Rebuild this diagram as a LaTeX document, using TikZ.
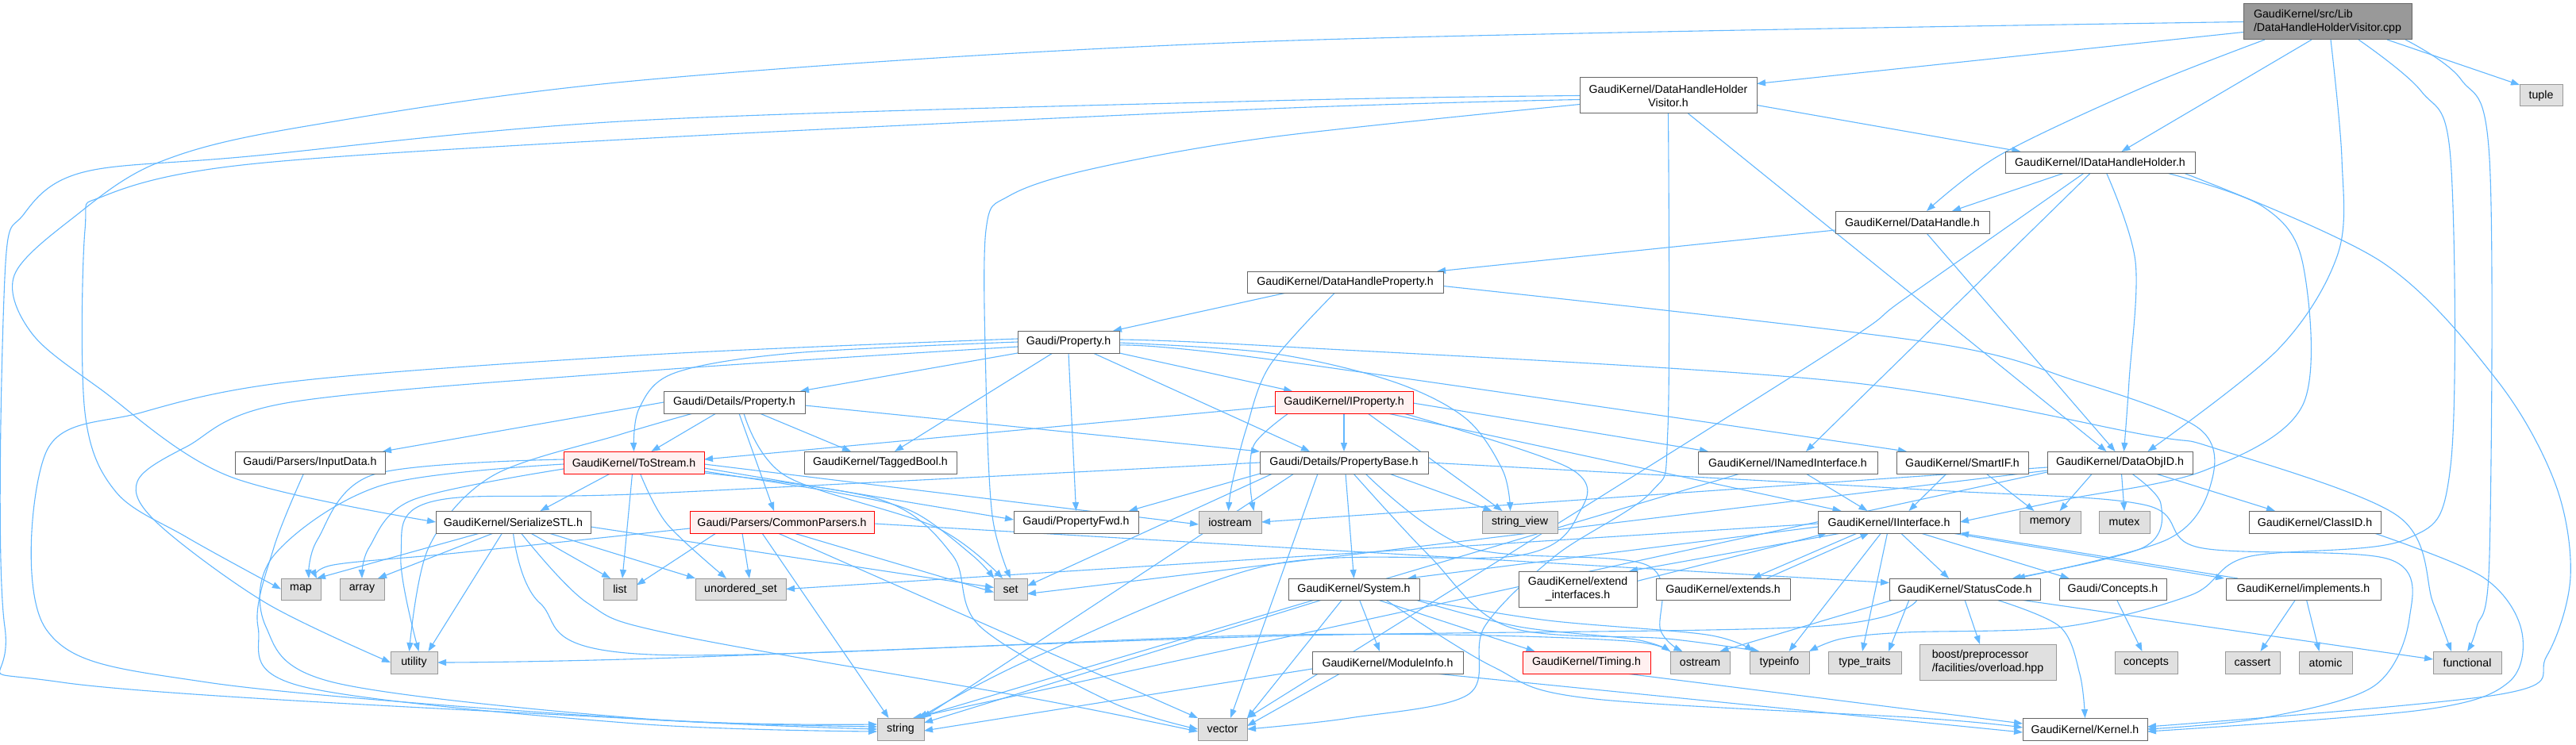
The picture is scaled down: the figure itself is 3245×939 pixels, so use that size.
\documentclass[tikz,border=0pt]{standalone}
\usepackage{fontspec}
\setmainfont{Liberation Sans}
\usetikzlibrary{arrows.meta}
\definecolor{edgeblue}{HTML}{63B8FF}
\definecolor{bordergray}{HTML}{666666}
\definecolor{lightgrayfill}{HTML}{E0E0E0}
\definecolor{midgray}{HTML}{999999}
\definecolor{pinkfill}{HTML}{FFF0F0}
\pgfdeclarelayer{bg}
\pgfsetlayers{bg,main}
\tikzset{
 nodew/.style={rectangle, draw=bordergray, fill=white, line width=1pt, inner sep=0pt, outer sep=0pt, align=center, font=\fontsize{14.2}{17}\selectfont},
 nodeg/.style={nodew, draw=midgray, fill=lightgrayfill},
 noder/.style={nodew, draw=red, fill=pinkfill},
 nodem/.style={nodew, draw=bordergray, fill=midgray},
 edg/.style={draw=edgeblue, line width=1.1pt, -{Triangle[length=11pt,width=8pt]}},
}
\newcommand{\mynode}[7]{\node[#1, minimum width=#5pt, minimum height=#6pt] (#2) at (#3,#4) {#7};}
\newcommand{\ed}[2]{\draw[edg] (#1) -- (#2);}
\newcommand{\rt}[1]{\draw[edg] plot[smooth, tension=0.55] coordinates {#1};}
\begin{document}
\begin{tikzpicture}[x=1pt,y=-1pt]
\useasboundingbox (0,0) rectangle (3245,939);
% ---------------- nodes ----------------
\node[nodem, align=left, minimum width=212pt, minimum height=45pt] (main) at (2932,27.5) {GaudiKernel/src/Lib\\/DataHandleHolderVisitor.cpp};
\mynode{nodeg}{tuple}{3201}{120.5}{54}{27}{tuple}
\mynode{nodew}{dhhv}{2101.5}{120.5}{223}{45}{GaudiKernel/DataHandleHolder\\Visitor.h}
\mynode{nodew}{idhh}{2645.5}{204.5}{239}{27}{GaudiKernel/IDataHandleHolder.h}
\mynode{nodew}{dh}{2409}{280}{194}{28}{GaudiKernel/DataHandle.h}
\mynode{nodew}{dhp}{1694.5}{355.5}{247}{27}{GaudiKernel/DataHandleProperty.h}
\mynode{nodew}{prop}{1346}{431}{128}{28}{Gaudi/Property.h}
\mynode{nodew}{dprop}{925}{507}{178}{28}{Gaudi/Details/Property.h}
\mynode{noder}{iprop}{1693}{507}{174}{28}{GaudiKernel/IProperty.h}
\mynode{noder}{tostream}{798.5}{583}{177}{28}{GaudiKernel/ToStream.h}
\mynode{nodew}{input}{390.5}{583}{189}{28}{Gaudi/Parsers/InputData.h}
\mynode{nodew}{tagged}{1109}{583}{192}{28}{GaudiKernel/TaggedBool.h}
\mynode{nodew}{pbase}{1693}{583}{212}{28}{Gaudi/Details/PropertyBase.h}
\mynode{nodew}{inamed}{2252}{583}{226}{28}{GaudiKernel/INamedInterface.h}
\mynode{nodew}{smartif}{2472}{583}{166}{28}{GaudiKernel/SmartIF.h}
\mynode{nodew}{dataobj}{2670.5}{583}{183}{28}{GaudiKernel/DataObjID.h}
\mynode{nodew}{serial}{646.5}{658}{195}{28}{GaudiKernel/SerializeSTL.h}
\mynode{noder}{common}{985}{658}{232}{28}{Gaudi/Parsers/CommonParsers.h}
\mynode{nodew}{pfwd}{1355.5}{658}{157}{28}{Gaudi/PropertyFwd.h}
\mynode{nodeg}{iostream}{1549.5}{658}{79}{28}{iostream}
\mynode{nodeg}{strview}{1914.5}{658}{95}{28}{string\_view}
\mynode{nodew}{iface}{2379.5}{658}{179}{28}{GaudiKernel/IInterface.h}
\mynode{nodeg}{memory}{2582.5}{658}{77}{28}{memory}
\mynode{nodeg}{mutex}{2676}{658}{64}{28}{mutex}
\mynode{nodew}{classid}{2916}{658}{166}{28}{GaudiKernel/ClassID.h}
\mynode{nodeg}{map}{379}{742.5}{50}{27}{map}
\mynode{nodeg}{array}{456}{742.5}{56}{27}{array}
\mynode{nodeg}{list}{781}{742.5}{42}{27}{list}
\mynode{nodeg}{uset}{933}{742.5}{114}{27}{unordered\_set}
\mynode{nodeg}{set}{1273}{742.5}{42}{27}{set}
\mynode{nodew}{system}{1705.5}{742.5}{165}{27}{GaudiKernel/System.h}
\mynode{nodew}{extif}{1987.5}{742.5}{149}{45}{GaudiKernel/extend\\\_interfaces.h}
\mynode{nodew}{extends}{2170.5}{742.5}{169}{27}{GaudiKernel/extends.h}
\mynode{nodew}{status}{2475}{742.5}{190}{27}{GaudiKernel/StatusCode.h}
\mynode{nodew}{gconcepts}{2661.5}{742.5}{135}{27}{Gaudi/Concepts.h}
\mynode{nodew}{impl}{2901.5}{742.5}{195}{27}{GaudiKernel/implements.h}
\mynode{nodeg}{utility}{521.5}{835}{59}{28}{utility}
\mynode{nodew}{modinfo}{1748}{835}{190}{28}{GaudiKernel/ModuleInfo.h}
\mynode{noder}{timing}{1998.5}{835}{161}{28}{GaudiKernel/Timing.h}
\mynode{nodeg}{ostream}{2141.5}{835}{75}{28}{ostream}
\mynode{nodeg}{typeinfo}{2241.5}{835}{75}{28}{typeinfo}
\mynode{nodeg}{typetraits}{2349}{835}{92}{28}{type\_traits}
\node[nodeg, align=left, minimum width=172pt, minimum height=45pt] (boost) at (2504,834.5) {boost/preprocessor\\/facilities/overload.hpp};
\mynode{nodeg}{concepts}{2703.5}{835}{79}{28}{concepts}
\mynode{nodeg}{cassert}{2837.5}{835}{69}{28}{cassert}
\mynode{nodeg}{atomic}{2929.5}{835}{67}{28}{atomic}
\mynode{nodeg}{functional}{3108}{835}{86}{28}{functional}
\mynode{nodeg}{string}{1134.5}{919}{59}{28}{string}
\mynode{nodeg}{vector}{1540}{919}{62}{28}{vector}
\mynode{nodew}{kernel}{2626.5}{919}{157}{28}{GaudiKernel/Kernel.h}
% ---------------- edges ----------------
\begin{pgfonlayer}{bg}
\fill[white] (0,0) rectangle (3245,939);
% main
\ed{[yshift=-13pt]main.west}{[yshift=15pt]dhhv.east}
\ed{[xshift=-20pt]main.south}{[xshift=27pt]idhh.north}
\rt{([xshift=-79pt]main.south) (2700,110) (2520,195) ([xshift=18pt]dh.north)}
\ed{[xshift=75pt]main.south}{tuple.north west}
\rt{([xshift=4pt]main.south) (2950,200) (2945,320) (2870,440) ([xshift=35pt]dataobj.north)}
\rt{(main.west) (1600,52) (820,100) (380,160) (199,205) (94,273) (18,347) (40,420) (126,490) (288,600) (serial.west)}
\rt{([xshift=39pt]main.south) (3050,115) (3087,200) (3087,587) (3030,680) (2831,702) (2760,750) (2600,790) (2400,797) (2320,805) (typeinfo.north east)}
\rt{([xshift=98pt]main.south) (3100,100) (3136,200) (3136,700) (3120,790) (functional.north)}
% dhhv
\ed{[yshift=-12pt]dhhv.east}{[xshift=-100pt]idhh.north}
\ed{[xshift=25pt]dhhv.south}{[xshift=-17pt]dataobj.north}
\rt{(dhhv.west) (1600,127) (800,152) (314,197) (105,217) (30,270) (6,350) (6,790) (78,860) (820,907) (string.west)}
\rt{([yshift=-5pt]dhhv.west) (1600,137) (820,174) (314,207) (131,247) (107,290) (107,520) (146,620) (235,677) (map.west)}
\rt{([yshift=-11pt]dhhv.west) (1600,173) (1375,213) (1271,247) (1242,290) (1242,480) (1250,650) (set.north)}
\rt{(dhhv.south) (2101,540) (2080,620) (1960,700) (1870,790) (1850,875) (1700,905) (vector.east)}
% idhh
\ed{[xshift=-45pt]idhh.south}{[xshift=50pt]dh.north}
\ed{[xshift=-12pt]idhh.south}{[xshift=23pt]inamed.north}
\rt{([xshift=8pt]idhh.south) (2690,330) (2682,480) ([xshift=5pt]dataobj.north)}
\rt{([xshift=84pt]idhh.south) (2850,260) (2901,333) (2901,510) (2777,593) (2600,630) (iface.east)}
\rt{([xshift=105pt]idhh.south) (3000,330) (3146,480) (3219,610) (3238,727) (3208,827) (3150,875) ([yshift=3pt]kernel.east)}
\rt{([xshift=-20pt]idhh.south) (2400,376) (2280,460) (vector.north east)}
% dh
\ed{[yshift=-10pt]dh.west}{[xshift=-8pt]dhp.north east}
\ed{[xshift=18pt]dh.south}{[xshift=-6pt]dataobj.north}
% dhp
\ed{[xshift=-74pt]dhp.south}{[xshift=-8pt]prop.north east}
\rt{([xshift=-13pt]dhp.south) (1600,460) (1570,540) (1552,610) ([xshift=-2pt]iostream.north)}
\rt{([yshift=-5pt]dhp.east) (2420,430) (2615,480) (2770,540) (2785,610) (2730,680) ([xshift=65pt]status.north)}
% prop
\ed{prop.south west}{[xshift=-6pt]dprop.north east}
\rt{(prop.west) (1000,445) (850,470) (805,515) (tostream.north)}
\ed{[xshift=-20pt]prop.south}{[xshift=18pt]tagged.north}
\ed{prop.south}{pfwd.north}
\ed{[xshift=31pt]prop.south}{[xshift=-43pt]pbase.north}
\ed{prop.south east}{[xshift=-65pt]iprop.north}
\rt{([yshift=-4pt]prop.east) (1600,453) ([xshift=-70pt]smartif.north)}
\rt{([yshift=-1pt]prop.east) (1600,445) (1752,480) (1846,527) (1893,593) ([xshift=-12pt]strview.north)}
\rt{([yshift=3pt]prop.east) (1600,436) (2311,480) (2702,548) (2790,565) (3020,650) (3065,760) ([xshift=-20pt]functional.north)}
\rt{([yshift=4pt]prop.west) (820,447) (376,480) (178,520) (58,570) (58,793) (261,860) (820,907) ([yshift=6pt]string.west)}
\rt{([yshift=-6pt]prop.west) (820,467) (366,507) (235,563) (173,607) (199,660) (335,760) (utility.west)}
% dprop
\ed{dprop.west}{[xshift=-3pt]input.north east}
\rt{([xshift=-52pt]dprop.south) (780,548) (620,600) (540,690) ([xshift=-6pt]utility.north)}
\ed{[xshift=-23pt]dprop.south}{[xshift=22pt]tostream.north}
\ed{[xshift=6pt]dprop.south}{[xshift=-10pt]common.north}
\rt{([xshift=12pt]dprop.south) (990,600) (1180,665) ([xshift=-10pt]set.north)}
\ed{[xshift=32pt]dprop.south}{[xshift=-37pt]tagged.north}
\ed{[yshift=-4pt]dprop.east}{pbase.north west}
% iprop
\ed{[yshift=-5pt]iprop.west}{[yshift=4pt]tostream.east}
\rt{([xshift=-70pt]iprop.south) (1580,560) (1575,610) ([xshift=30pt]iostream.north)}
\ed{iprop.south}{pbase.north}
\ed{[xshift=30pt]iprop.south}{[xshift=-22pt]strview.north}
\ed{[xshift=55pt]iprop.south}{[xshift=-60pt]iface.north}
\rt{([xshift=75pt]iprop.south) (1977,590) (1990,645) (1914,700) (1600,712) (1300,830) ([xshift=-6pt]string.north east)}
\ed{[yshift=-1pt]iprop.east}{[xshift=-100pt]inamed.north}
% pbase
\ed{pbase.south west}{[xshift=-12pt]pfwd.north east}
\rt{(pbase.west) (820,622) (545,632) (505,700) ([xshift=6pt]utility.north)}
\ed{[xshift=-90pt]pbase.south}{[yshift=4pt]set.east}
\ed{[xshift=-63pt]pbase.south}{[xshift=-2pt]string.north east}
\ed{[xshift=-33pt]pbase.south}{[xshift=10pt]vector.north}
\ed{[xshift=2pt]pbase.south}{system.north}
\rt{([xshift=12pt]pbase.south) (1800,700) (1900,790) (2100,805) ([xshift=-25pt]typeinfo.north)}
\rt{([xshift=27pt]pbase.south) (1850,690) (2074,712) (2092,795) ([xshift=-22pt]ostream.north)}
\ed{[xshift=57pt]pbase.south}{[xshift=-35pt]strview.north}
\rt{(pbase.east) (2420,617) (2700,636) (2770,690) (3010,705) (3035,780) (2990,865) (2850,905) (kernel.east)}
% tostream
\rt{([yshift=4pt]tostream.west) (471,598) (400,680) ([xshift=10pt]map.north)}
\rt{([yshift=-8pt]tostream.west) (520,630) (465,690) (array.north)}
\rt{([yshift=-2pt]tostream.west) (480,612) (345,700) (335,790) (420,860) (800,905) ([yshift=3pt]string.west)}
\ed{[xshift=-30pt]tostream.south}{[xshift=34pt]serial.north}
\ed{[xshift=-2pt]tostream.south}{[xshift=3pt]list.north}
\rt{([xshift=8pt]tostream.south) (840,660) ([xshift=-18pt]uset.north)}
\ed{[yshift=-2pt]tostream.east}{[yshift=-3pt]iostream.west}
\ed{[yshift=-7pt]tostream.east}{[yshift=3pt]pfwd.west}
\rt{([yshift=-11pt]tostream.east) (1060,622) (1150,645) (1225,700) (set.north west)}
\rt{([yshift=-13pt]tostream.east) (1110,630) (1200,700) (1235,790) (1400,885) (vector.west)}
% input
\rt{([xshift=-8pt]input.south) (345,690) (325,790) (380,865) (800,912) ([yshift=-3pt]string.west)}
% common
\rt{([yshift=-8pt]common.west) (575,697) (420,712) ([xshift=20pt]map.north)}
\ed{[xshift=-83pt]common.south}{[yshift=5pt]list.east}
\ed{[xshift=-50pt]common.south}{[xshift=11pt]uset.north}
\ed{[xshift=-25pt]common.south}{[xshift=-15pt]string.north}
\ed{[xshift=-5pt]common.south}{vector.north west}
\ed{[xshift=15pt]common.south}{[yshift=-4pt]set.west}
\ed{[yshift=-2pt]common.east}{[yshift=8pt]status.west}
% serial
\ed{[xshift=-42pt]serial.south}{[xshift=20pt]map.north}
\ed{[xshift=-25pt]serial.south}{[xshift=20pt]array.north}
\ed{[xshift=-14pt]serial.south}{[xshift=18pt]utility.north}
\ed{[xshift=22pt]serial.south}{[xshift=-12pt]list.north}
\ed{[xshift=45pt]serial.south}{uset.north west}
\ed{[yshift=-6pt]serial.east}{[yshift=2pt]set.west}
\rt{([xshift=10pt]serial.south) (740,760) (850,800) (1300,880) ([yshift=-3pt]vector.west)}
\rt{(serial.south) (680,760) (820,825) (1620,800) (2050,808) (ostream.west)}
% inamed
\ed{[xshift=23pt]inamed.south}{[xshift=-27pt]iface.north}
\ed{[xshift=-60pt]inamed.south}{[xshift=-10pt]string.north east}
% smartif
\ed{[xshift=-20pt]smartif.south}{[xshift=25pt]iface.north}
\ed{[xshift=30pt]smartif.south}{[xshift=-20pt]memory.north}
% dataobj
\ed{[xshift=-35pt]dataobj.south}{[xshift=12pt]memory.north}
\ed{[xshift=2pt]dataobj.south}{mutex.north}
\rt{([xshift=15pt]dataobj.south) (2722,635) (2700,690) ([xshift=60pt]status.north)}
\ed{[xshift=45pt]dataobj.south}{[xshift=-50pt]classid.north}
\ed{[yshift=-6pt]dataobj.west}{iostream.east}
\ed{[yshift=-10pt]dataobj.west}{[yshift=-6pt]set.east}
\ed{[yshift=-12pt]dataobj.west}{[xshift=-14pt]string.north east}
% iface
\ed{[yshift=-6pt]iface.west}{[xshift=-15pt]system.north east}
\ed{[yshift=-2pt]iface.west}{uset.east}
\ed{[xshift=15pt]iface.south}{[xshift=-20pt]status.north}
\ed{[xshift=40pt]iface.south}{[xshift=-55pt]gconcepts.north}
\ed{[xshift=-10pt]iface.south}{[xshift=12pt]typeinfo.north}
\ed{[xshift=-2pt]iface.south}{[xshift=-3pt]typetraits.north}
\ed{[xshift=-60pt]iface.south}{[xshift=-10pt]extif.north east}
\ed{[yshift=10pt]extif.east}{[xshift=-78pt]iface.south}
\ed{[xshift=-40pt]iface.south}{[xshift=37pt]extends.north}
\ed{[xshift=55pt]extends.north}{[xshift=-25pt]iface.south}
\ed{[xshift=-10pt]iface.south east}{[xshift=-2pt]impl.north west}
\ed{[xshift=15pt]impl.north west}{iface.south east}
% system
\ed{[xshift=-40pt]system.south}{[yshift=8pt]string.east}
\ed{[xshift=-15pt]system.south}{vector.north east}
\ed{[xshift=7pt]system.south}{[xshift=-10pt]modinfo.north}
\ed{[xshift=30pt]system.south}{[xshift=-65pt]timing.north}
\rt{([xshift=40pt]system.south) (1880,840) (2000,880) (2420,905) ([yshift=2pt]kernel.west)}
\rt{(system.south east) (1950,782) (2150,800) ([xshift=-33pt]typeinfo.north)}
\rt{([xshift=-5pt]system.south east) (1914,790) (2060,806) (ostream.north west)}
% modinfo, timing
\ed{[yshift=-8pt]modinfo.west}{[yshift=-2pt]string.east}
\ed{[xshift=-60pt]modinfo.south}{[yshift=4pt]vector.east}
\ed{[xshift=60pt]modinfo.south}{[yshift=-4pt]kernel.west}
\ed{[xshift=50pt]timing.south}{[yshift=7pt]kernel.west}
% status
\rt{([xshift=-60pt]status.south) (2280,790) (1600,802) (820,830) (utility.east)}
\ed{[xshift=5pt]status.south west}{[xshift=25pt]ostream.north}
\ed{[xshift=-70pt]status.south}{[xshift=30pt]typetraits.north}
\ed{status.south}{[xshift=-10pt]boost.north}
\rt{([xshift=40pt]status.south) (2595,790) (2620,850) (kernel.north)}
\ed{[xshift=70pt]status.south}{[yshift=4pt]functional.west}
% classid, concepts, implements
\rt{([xshift=75pt]classid.south) (3127,727) (3176,793) (3160,860) (3050,895) ([yshift=-3pt]kernel.east)}
\ed{[xshift=5pt]gconcepts.south}{[xshift=-5pt]concepts.north}
\ed{[xshift=-10pt]impl.south}{[xshift=10pt]cassert.north}
\ed{[xshift=4pt]impl.south}{[xshift=-8pt]atomic.north}
\end{pgfonlayer}
\end{tikzpicture}
\end{document}
